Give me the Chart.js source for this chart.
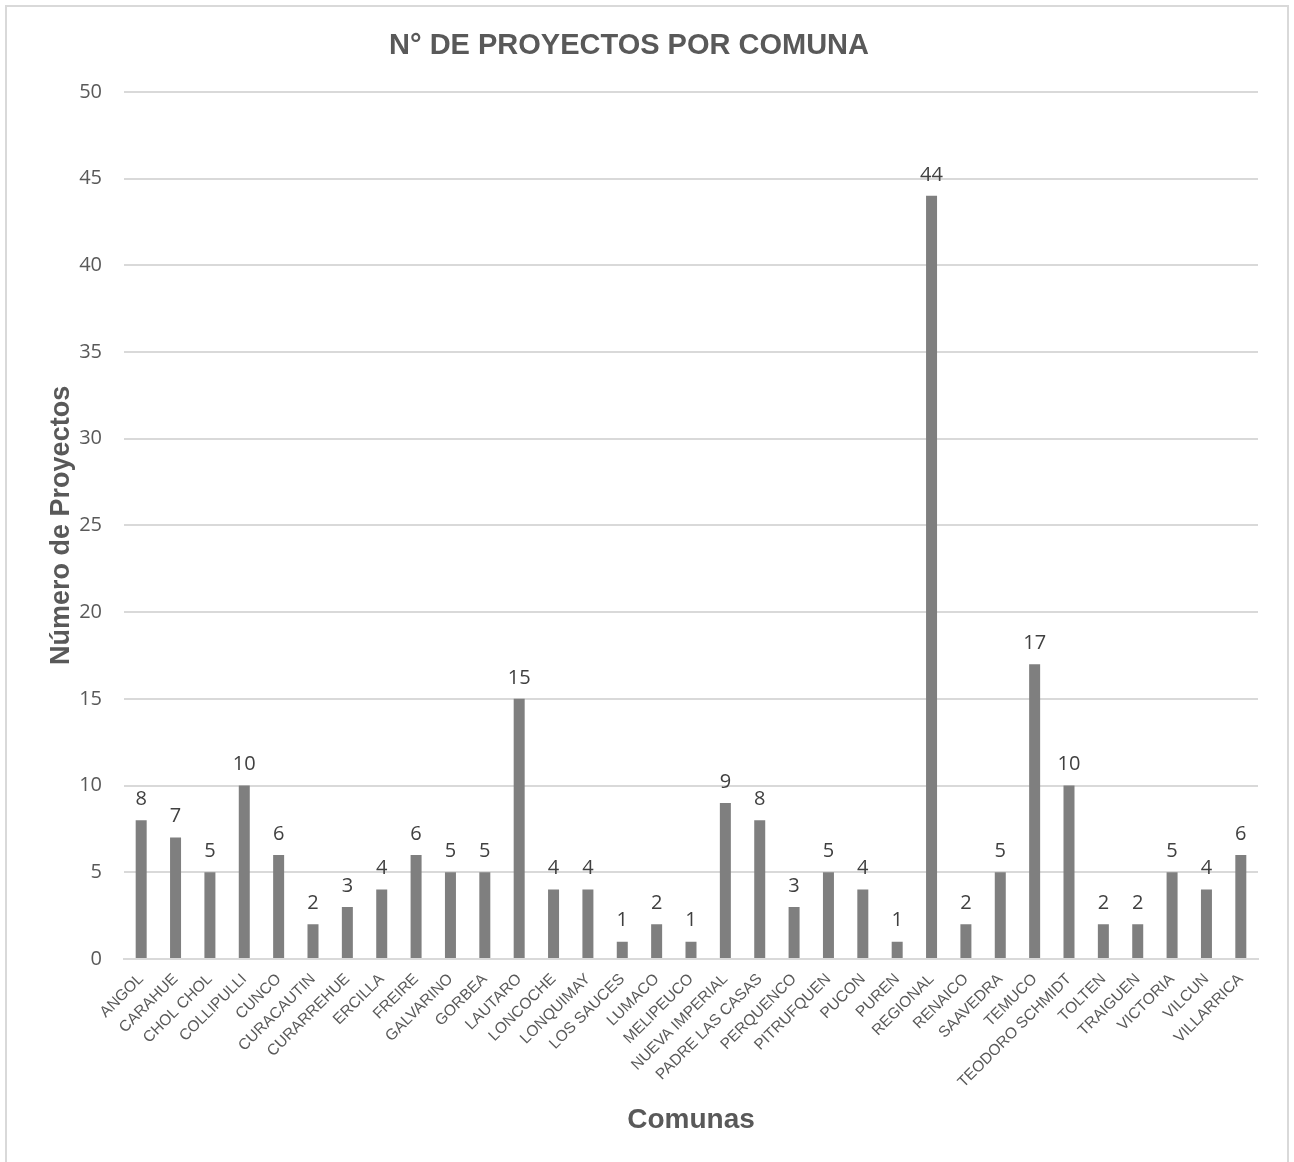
<!DOCTYPE html>
<html>
<head>
<meta charset="utf-8">
<script src="https://cdn.jsdelivr.net/npm/chart.js@4"></script>
<style>
html, body { margin: 0; padding: 0; background: #fff; }
#frame { position: absolute; left: 5px; top: 5px; width: 1280px; height: 1200px; border: 2px solid #d9d9d9; }
#wrap { position: absolute; left: 0; top: 0; width: 1294px; height: 1162px; }
</style>
</head>
<body>
<div id="frame"></div>
<div id="wrap"><canvas id="chart" width="1294" height="1162"></canvas></div>
<script>
const comunas = ['ANGOL','CARAHUE','CHOL CHOL','COLLIPULLI','CUNCO','CURACAUTIN','CURARREHUE','ERCILLA','FREIRE','GALVARINO','GORBEA','LAUTARO','LONCOCHE','LONQUIMAY','LOS SAUCES','LUMACO','MELIPEUCO','NUEVA IMPERIAL','PADRE LAS CASAS','PERQUENCO','PITRUFQUEN','PUCON','PUREN','REGIONAL','RENAICO','SAAVEDRA','TEMUCO','TEODORO SCHMIDT','TOLTEN','TRAIGUEN','VICTORIA','VILCUN','VILLARRICA'];
const proyectos = [8,7,5,10,6,2,3,4,6,5,5,15,4,4,1,2,1,9,8,3,5,4,1,44,2,5,17,10,2,2,5,4,6];
const yMax = 50;
const yStep = 5;

// value labels above each bar
const valueLabels = {
  id: 'valueLabels',
  afterDatasetsDraw(chart) {
    const ctx = chart.ctx;
    const meta = chart.getDatasetMeta(0);
    ctx.save();
    ctx.font = '20px "Open Sans"';
    ctx.fillStyle = '#404040';
    ctx.textAlign = 'center';
    ctx.textBaseline = 'bottom';
    meta.data.forEach((bar, i) => {
      ctx.fillText(String(proyectos[i]), bar.x, bar.y - 11);
    });
    ctx.restore();
  }
};

new Chart(document.getElementById('chart').getContext('2d'), {
  type: 'bar',
  data: {
    labels: comunas,
    datasets: [{
      data: proyectos,
      backgroundColor: '#7f7f7f',
      barPercentage: 0.64,
      categoryPercentage: 0.5
    }]
  },
  options: {
    responsive: false,
    animation: false,
    layout: { padding: { left: 0, right: 36, top: 0, bottom: 0 } },
    plugins: {
      legend: { display: false },
      tooltip: { enabled: false },
      title: {
        display: true,
        text: 'N° DE PROYECTOS POR COMUNA',
        color: '#595959',
        font: { family: 'Liberation Sans', size: 29, weight: 'bold' },
        padding: { top: 29, bottom: 28 }
      }
    },
    scales: {
      x: {
        grid: { display: false },
        border: { color: '#d9d9d9', width: 2 },
        ticks: {
          color: '#595959',
          font: { family: 'Liberation Sans', size: 15.5 },
          minRotation: 45, maxRotation: 45,
          autoSkip: false, padding: 3
        },
        title: {
          display: true, text: 'Comunas', color: '#595959',
          font: { family: 'Liberation Sans', size: 28, weight: 'bold' },
          padding: { top: 0, bottom: 25 }
        },
        afterFit(s) { s.height = 203; }
      },
      y: {
        min: 0, max: yMax,
        grid: { color: '#d9d9d9', lineWidth: 2, drawTicks: false },
        border: { display: false },
        ticks: {
          stepSize: yStep, color: '#595959',
          font: { family: 'Open Sans', size: 20 },
          padding: 22
        },
        title: {
          display: true, text: 'Número de Proyectos', color: '#595959',
          font: { family: 'Liberation Sans', size: 27, weight: 'bold' },
          padding: { top: 45, bottom: 0 }
        },
        afterFit(s) { s.width = 124; }
      }
    }
  },
  plugins: [valueLabels]
});
</script>
</body>
</html>
